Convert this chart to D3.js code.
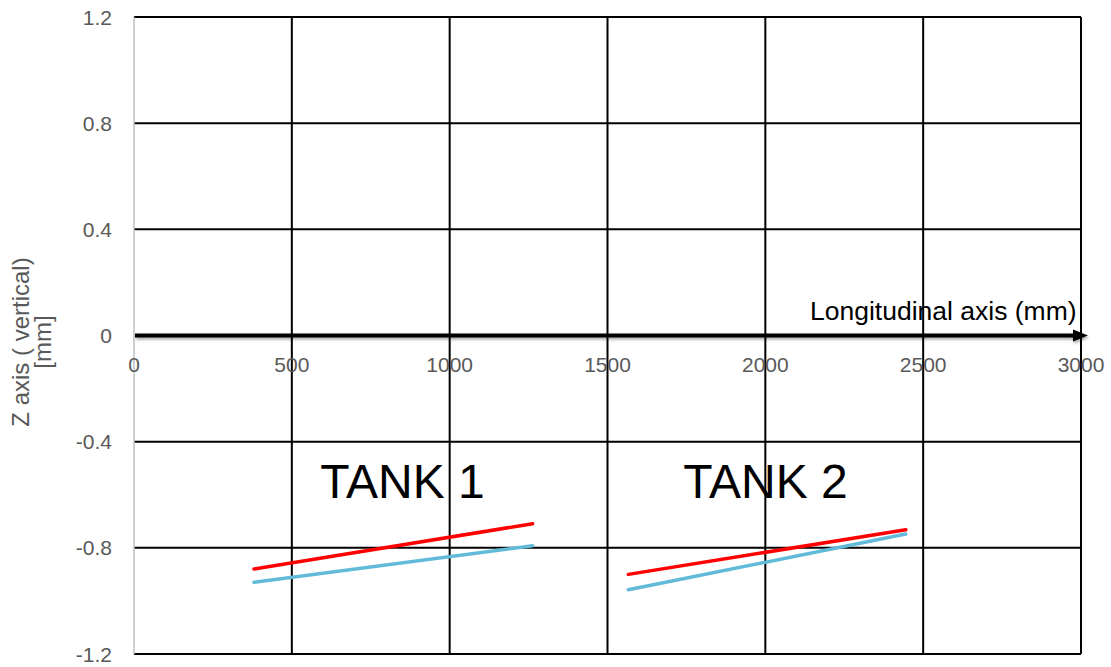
<!DOCTYPE html>
<html>
<head>
<meta charset="utf-8">
<script src="https://d3js.org/d3.v7.min.js"></script>
<style>
  body { margin: 0; background: #fff; }
  text { font-family: "Liberation Sans", Arial, sans-serif; }
</style>
</head>
<body>
<div id="chart"></div>
<script>
// tick values
var xTicks = [0, 500, 1000, 1500, 2000, 2500, 3000];
var yTicks = [1.2, 0.8, 0.4, 0, -0.4, -0.8, -1.2];

// tank 1 (longitudinal position in mm, vertical in mm)
var tank1X = [380, 1263];
var tank1Red = [-0.88, -0.709];
var tank1Blue = [-0.93, -0.792];

// tank 2
var tank2X = [1566, 2445];
var tank2Red = [-0.9, -0.732];
var tank2Blue = [-0.958, -0.748];

var tankLabels = ["TANK 1", "TANK 2"];

function setChart() {

    var margin = {top: 17, right: 30, bottom: 13, left: 134},
        width = 1111 - margin.left - margin.right,
        height = 667 - margin.top - margin.bottom;

    var svg = d3.select("#chart")
        .append("svg")
        .attr("width", 1111)
        .attr("height", 667);

    var defs = svg.append("defs");
    defs.append("filter")
        .attr("id", "shadow")
        .attr("x", "-5%").attr("y", "-100%")
        .attr("width", "110%").attr("height", "400%")
        .append("feDropShadow")
        .attr("dx", 1).attr("dy", 2)
        .attr("stdDeviation", 1.5)
        .attr("flood-color", "#000")
        .attr("flood-opacity", 0.35);

    var g = svg.append("g")
        .attr("transform", "translate(" + margin.left + "," + margin.top + ")");

    var x = d3.scaleLinear()
        .domain([0, 3000])
        .range([0, width]);

    var y = d3.scaleLinear()
        .domain([-1.2, 1.2])
        .range([height, 0]);

    // horizontal grid lines
    g.append("g")
        .selectAll("line")
        .data(yTicks.filter(function (d) { return d !== 0; }))
        .enter()
        .append("line")
        .attr("x1", 0)
        .attr("x2", width)
        .attr("y1", function (d) { return y(d); })
        .attr("y2", function (d) { return y(d); })
        .attr("stroke", "#000")
        .attr("stroke-width", 2);

    // vertical grid lines
    g.append("g")
        .selectAll("line")
        .data(xTicks.filter(function (d) { return d !== 0; }))
        .enter()
        .append("line")
        .attr("x1", function (d) { return x(d); })
        .attr("x2", function (d) { return x(d); })
        .attr("y1", 0)
        .attr("y2", height)
        .attr("stroke", "#000")
        .attr("stroke-width", 2);

    // left axis line (light)
    g.append("line")
        .attr("x1", 0).attr("x2", 0)
        .attr("y1", 0).attr("y2", height)
        .attr("stroke", "#bfbfbf")
        .attr("stroke-width", 1.5);

    // y tick labels
    g.append("g")
        .selectAll("text")
        .data(yTicks)
        .enter()
        .append("text")
        .attr("x", -22)
        .attr("y", function (d) { return y(d); })
        .attr("dy", "0.36em")
        .style("text-anchor", "end")
        .style("font-size", "21px")
        .style("fill", "#595959")
        .text(function (d) { return d; });

    // x tick labels
    g.append("g")
        .selectAll("text")
        .data(xTicks)
        .enter()
        .append("text")
        .attr("x", function (d) { return x(d); })
        .attr("y", y(0) + 36)
        .style("text-anchor", "middle")
        .style("font-size", "21px")
        .style("fill", "#595959")
        .text(function (d) { return d; });

    // zero axis with arrow
    var arrowEnd = x(3000) + 7;
    var axisG = g.append("g").attr("filter", "url(#shadow)");
    axisG.append("line")
        .attr("x1", x(0) + 1)
        .attr("x2", arrowEnd - 12)
        .attr("y1", y(0))
        .attr("y2", y(0))
        .attr("stroke", "#000")
        .attr("stroke-width", 4);
    axisG.append("path")
        .attr("d", "M" + (arrowEnd - 15) + "," + (y(0) - 6) +
            "L" + arrowEnd + "," + y(0) +
            "L" + (arrowEnd - 15) + "," + (y(0) + 6) + "Z")
        .attr("fill", "#000");

    // axis titles
    g.append("text")
        .attr("x", 676)
        .attr("y", y(0) - 16)
        .style("font-size", "26.5px")
        .style("fill", "#000")
        .text("Longitudinal axis (mm)");

    svg.append("text")
        .attr("transform", "translate(29,342) rotate(-90)")
        .style("text-anchor", "middle")
        .style("font-size", "24px")
        .style("fill", "#595959")
        .text("Z axis ( vertical)");

    svg.append("text")
        .attr("transform", "translate(51,342) rotate(-90)")
        .style("text-anchor", "middle")
        .style("font-size", "24px")
        .style("fill", "#595959")
        .text("[mm]");

    // series lines
    var series = [
        {xs: tank1X, ys: tank1Red, color: "#ff0000"},
        {xs: tank1X, ys: tank1Blue, color: "#62bad9"},
        {xs: tank2X, ys: tank2Red, color: "#ff0000"},
        {xs: tank2X, ys: tank2Blue, color: "#62bad9"}
    ];

    var line = d3.line()
        .x(function (d) { return x(d[0]); })
        .y(function (d) { return y(d[1]); });

    g.append("g")
        .selectAll("path")
        .data(series)
        .enter()
        .append("path")
        .attr("d", function (s) { return line(d3.zip(s.xs, s.ys)); })
        .attr("fill", "none")
        .attr("stroke", function (s) { return s.color; })
        .attr("stroke-width", 3.5)
        .attr("stroke-linecap", "round");

    // tank labels
    g.append("g")
        .selectAll("text")
        .data(tankLabels)
        .enter()
        .append("text")
        .attr("x", function (d, i) { return i === 0 ? x(590) : x(1740); })
        .attr("y", y(-0.612))
        .style("font-size", "48px")
        .style("fill", "#000")
        .text(function (d) { return d; });
}

setChart();
</script>
</body>
</html>
